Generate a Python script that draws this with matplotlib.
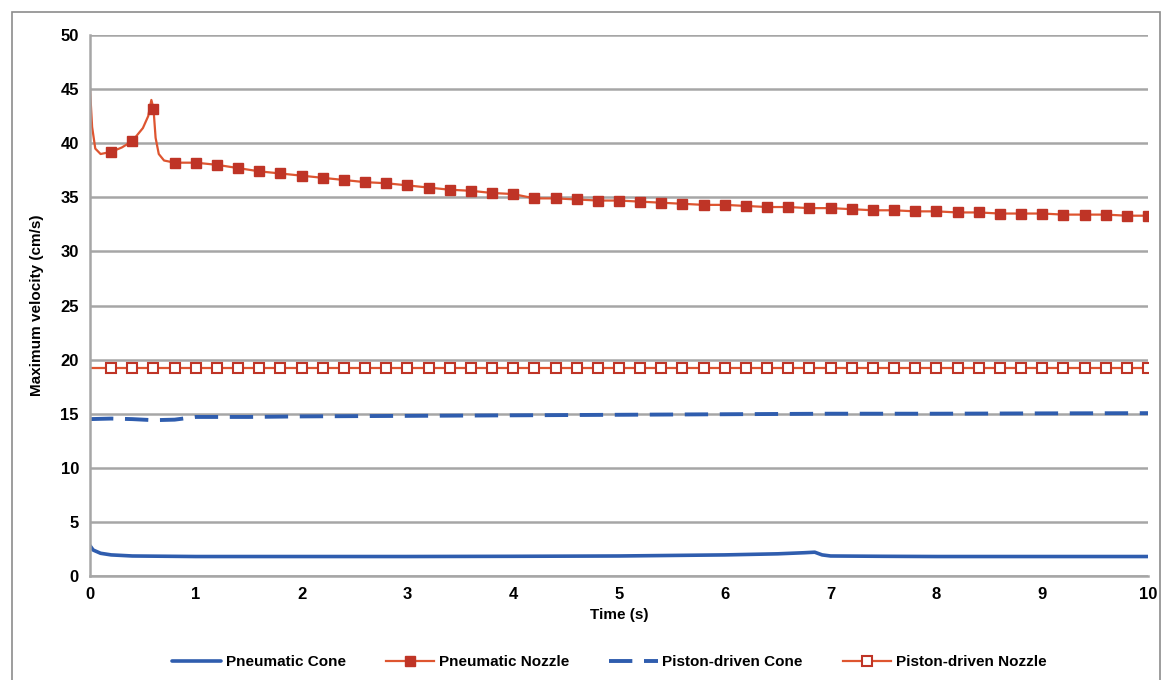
import matplotlib
matplotlib.use("Agg")
import matplotlib.pyplot as plt
from matplotlib.patches import Rectangle
import numpy as np

# ---- data ----
pn_nozzle_t = [0.0, 0.02, 0.05, 0.1, 0.2, 0.3, 0.4, 0.5, 0.55, 0.58, 0.6, 0.62, 0.65, 0.7, 0.8,
               1.0, 1.2, 1.4, 1.6, 1.8, 2.0, 2.2, 2.4, 2.6, 2.8, 3.0, 3.2, 3.4, 3.6, 3.8, 4.0,
               4.2, 4.4, 4.6, 4.8, 5.0, 5.2, 5.4, 5.6, 5.8, 6.0, 6.2, 6.4, 6.6, 6.8, 7.0,
               7.2, 7.4, 7.6, 7.8, 8.0, 8.2, 8.4, 8.6, 8.8, 9.0, 9.2, 9.4, 9.6, 9.8, 10.0]
pn_nozzle_v = [45.0, 41.5, 39.5, 39.0, 39.2, 39.6, 40.2, 41.4, 42.5, 44.0, 43.2, 40.5, 39.0, 38.4, 38.2,
               38.2, 38.0, 37.7, 37.4, 37.2, 37.0, 36.8, 36.6, 36.4, 36.3, 36.1, 35.9, 35.7, 35.6, 35.4, 35.3,
               34.9, 34.9, 34.8, 34.7, 34.7, 34.6, 34.5, 34.4, 34.3, 34.3, 34.2, 34.1, 34.1, 34.0, 34.0,
               33.9, 33.8, 33.8, 33.7, 33.7, 33.6, 33.6, 33.5, 33.5, 33.5, 33.4, 33.4, 33.4, 33.3, 33.3]

pn_cone_t = [0.0, 0.03, 0.1, 0.2, 0.4, 1.0, 2.0, 3.0, 4.0, 5.0, 5.5, 6.0, 6.5, 6.75, 6.85, 6.92, 7.0, 7.5, 8.0, 9.0, 10.0]
pn_cone_v = [2.8, 2.4, 2.1, 1.95, 1.85, 1.8, 1.8, 1.8, 1.82, 1.85, 1.9, 1.95, 2.05, 2.15, 2.2, 1.95, 1.85, 1.82, 1.8, 1.8, 1.8]

pd_cone_t = [0.0, 0.2, 0.4, 0.6, 0.8, 1.0, 1.5, 2.0, 3.0, 4.0, 5.0, 6.0, 7.0, 8.0, 9.0, 10.0]
pd_cone_v = [14.5, 14.55, 14.5, 14.4, 14.45, 14.7, 14.7, 14.75, 14.8, 14.85, 14.9, 14.95, 15.0, 15.0, 15.03, 15.05]

pd_nozzle_t = [round(0.2 * i, 1) for i in range(51)]
pd_nozzle_v = [19.2] * 51

labels = ["Pneumatic Cone", "Pneumatic Nozzle", "Piston-driven Cone", "Piston-driven Nozzle"]
x_ticks = list(range(0, 11))
y_ticks = list(range(0, 51, 5))

# ---- style ----
plt.rcParams['font.family'] = ['Liberation Sans Narrow', 'Liberation Sans', 'DejaVu Sans']
plt.rcParams['font.weight'] = 'bold'
blue = '#2F5DAE'
red_line = '#DE5530'
red_mark = '#BF3426'

fig = plt.figure(figsize=(11.61, 6.80), dpi=100)
ax = fig.add_axes([90 / 1161, 1 - 576 / 680, (1148 - 90) / 1161, (576 - 35) / 680])

# frame around figure
fig.patches.append(Rectangle((12 / 1161, -0.01), (1160 - 12) / 1161, 1 - 12 / 680 + 0.01,
                             transform=fig.transFigure, fill=False, edgecolor='#8c8c8c', lw=1.2))

ax.plot(pn_cone_t, pn_cone_v, color=blue, lw=2.6, label=labels[0], solid_capstyle='round')

mark_idx = [i for i, t in enumerate(pn_nozzle_t)
            if t > 0 and abs(t / 0.2 - round(t / 0.2)) < 1e-6]
ax.plot(pn_nozzle_t, pn_nozzle_v, color=red_line, lw=1.6, marker='s', markersize=7.5,
        markerfacecolor=red_mark, markeredgecolor=red_mark, markevery=mark_idx, label=labels[1])

ax.plot(pd_cone_t, pd_cone_v, color=blue, lw=2.8, ls=(0, (6, 3)), label=labels[2])

ax.plot(pd_nozzle_t, pd_nozzle_v, color=red_line, lw=1.6, marker='s', markersize=7.5,
        markerfacecolor='white', markeredgecolor=red_mark, markeredgewidth=1.5,
        markevery=list(range(1, 51)), label=labels[3])

ax.set_xlim(0, 10)
ax.set_ylim(0, 50)
ax.set_xticks(x_ticks)
ax.set_yticks(y_ticks)
ax.tick_params(length=0, labelsize=12, pad=8)
for lab in ax.get_xticklabels() + ax.get_yticklabels():
    lab.set_fontweight('bold')
ax.yaxis.grid(True, color='#a6a6a6', lw=1.8)
ax.set_axisbelow(True)
for s in ['top', 'right']:
    ax.spines[s].set_visible(False)
ax.spines['left'].set_color('#a6a6a6')
ax.spines['left'].set_linewidth(1.8)
ax.spines['bottom'].set_color('#a6a6a6')
ax.spines['bottom'].set_linewidth(1.8)

ax.set_xlabel("Time (s)", fontsize=11, fontweight='bold', labelpad=4)
ax.set_ylabel("Maximum velocity (cm/s)", fontsize=11, fontweight='bold', labelpad=12)

leg = fig.legend(loc='center', bbox_to_anchor=(0.525, 1 - 662 / 680), ncol=4, frameon=False,
                 fontsize=11, handlelength=3.2, columnspacing=2.6, handletextpad=0.3)
for t in leg.get_texts():
    t.set_fontweight('bold')

fig.savefig("out.png", dpi=100)
